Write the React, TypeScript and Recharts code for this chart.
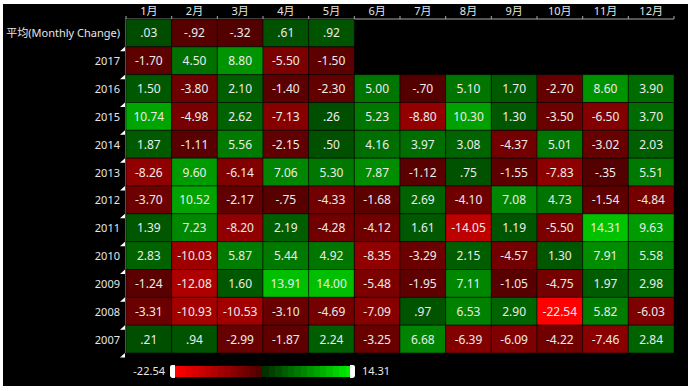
import React from 'react';
import { ScatterChart, Scatter, XAxis, YAxis } from 'recharts';

const MONTHS = ['1月', '2月', '3月', '4月', '5月', '6月', '7月', '8月', '9月', '10月', '11月', '12月'];
const ROWS = ['平均(Monthly Change)', '2017', '2016', '2015', '2014', '2013', '2012', '2011', '2010', '2009', '2008', '2007'];

const AVG = [0.03, -0.92, -0.32, 0.61, 0.92];
const Y2017 = [-1.7, 4.5, 8.8, -5.5, -1.5];
const Y2016 = [1.5, -3.8, 2.1, -1.4, -2.3, 5.0, -0.7, 5.1, 1.7, -2.7, 8.6, 3.9];
const Y2015 = [10.74, -4.98, 2.62, -7.13, 0.26, 5.23, -8.8, 10.3, 1.3, -3.5, -6.5, 3.7];
const Y2014 = [1.87, -1.11, 5.56, -2.15, 0.5, 4.16, 3.97, 3.08, -4.37, 5.01, -3.02, 2.03];
const Y2013 = [-8.26, 9.6, -6.14, 7.06, 5.3, 7.87, -1.12, 0.75, -1.55, -7.83, -0.35, 5.51];
const Y2012 = [-3.7, 10.52, -2.17, -0.75, -4.33, -1.68, 2.69, -4.1, 7.08, 4.73, -1.54, -4.84];
const Y2011 = [1.39, 7.23, -8.2, 2.19, -4.28, -4.12, 1.61, -14.05, 1.19, -5.5, 14.31, 9.63];
const Y2010 = [2.83, -10.03, 5.87, 5.44, 4.92, -8.35, -3.29, 2.15, -4.57, 1.3, 7.91, 5.58];
const Y2009 = [-1.24, -12.08, 1.6, 13.91, 14.0, -5.48, -1.95, 7.11, -1.05, -4.75, 1.97, 2.98];
const Y2008 = [-3.31, -10.93, -10.53, -3.1, -4.69, -7.09, 0.97, 6.53, 2.9, -22.54, 5.82, -6.03];
const Y2007 = [0.21, 0.94, -2.99, -1.87, 2.24, -3.25, 6.68, -6.39, -6.09, -4.22, -7.46, 2.84];

const SERIES = [AVG, Y2017, Y2016, Y2015, Y2014, Y2013, Y2012, Y2011, Y2010, Y2009, Y2008, Y2007];
const MIN_V = -22.54;
const MAX_V = 14.31;

const cells: { x: number; y: number; v: number }[] = [];
SERIES.forEach((vals, r) => vals.forEach((v, c) => cells.push({ x: c, y: r, v })));

const W = 691;
const H = 391;
const M = { top: 4, right: 17, bottom: 38, left: 3 };
const YW = 123;
const XH = 15;
const PW = W - M.left - M.right - YW;
const PH = H - M.top - M.bottom - XH;
const CW = PW / MONTHS.length;
const CH = PH / ROWS.length;
const FONT = "'Noto Sans', 'Noto Sans CJK SC', sans-serif";

function cellColor(v: number) {
  if (v < 0) {
    const t = Math.min(1, v / MIN_V);
    return `rgb(${Math.round(80 + t * 175)},0,0)`;
  }
  const t = Math.min(1, v / MAX_V);
  return `rgb(0,${Math.round(76 + t * 118)},0)`;
}

function fmt(v: number) {
  return v.toFixed(2).replace(/^(-?)0\./, '$1.');
}

const CellShape = (props: any) => {
  const { cx, cy, payload } = props;
  if (cx == null || cy == null) return null;
  return (
    <g>
      <rect x={cx - CW / 2} y={cy - CH / 2} width={CW} height={CH} fill={cellColor(payload.v)} stroke="rgba(0,0,0,0.5)" strokeWidth={1} />
      <text x={cx} y={cy} textAnchor="middle" dominantBaseline="central" fill="#ececec" fontSize={12} fontFamily={FONT}>
        {fmt(payload.v)}
      </text>
    </g>
  );
};

const XTick = (props: any) => {
  const { x, payload, index } = props;
  const ay = M.top + XH;
  return (
    <g>
      <text x={x} y={ay - 9} textAnchor="middle" dominantBaseline="central" fill="#e6e6e6" fontSize={11} fontFamily={FONT}>
        {MONTHS[payload.value]}
      </text>
      <line x1={x - CW / 2} x2={x - CW / 2} y1={ay} y2={ay - 3} stroke="#aaa" />
      {index === MONTHS.length - 1 ? <line x1={x + CW / 2} x2={x + CW / 2} y1={ay} y2={ay - 3} stroke="#aaa" /> : null}
    </g>
  );
};

const YTick = (props: any) => {
  const { y, payload } = props;
  const ax = M.left + YW - 1;
  const yb = y + CH / 2;
  const label = ROWS[payload.value];
  return (
    <g>
      <text x={ax - 5} y={y} textAnchor="end" dominantBaseline="central" fill="#e6e6e6" fontSize={11} fontFamily={FONT}>
        {label}
      </text>
      <polygon points={`${ax},${yb} ${ax},${yb + 4.5} ${ax - 5},${yb + 4.5}`} fill="#fff" />
    </g>
  );
};

const LegendBar = () => {
  const steps = 14;
  const reds = Array.from({ length: steps }, (_, i) => `rgb(${Math.round(255 - (i / (steps - 1)) * 170)},0,0)`);
  const greens = Array.from({ length: steps }, (_, i) => `rgb(0,${Math.round(50 + (i / (steps - 1)) * 185)},0)`);
  const barLeft = 173;
  const barW = 179;
  const barTop = 366;
  return (
    <div style={{ position: 'absolute', left: 0, top: 0, width: W, height: H, pointerEvents: 'none', fontFamily: FONT }}>
      <div style={{ position: 'absolute', left: barLeft - 50, top: barTop - 2, width: 42, textAlign: 'right', color: '#e6e6e6', fontSize: 11, lineHeight: '14px' }}>
        {fmt(MIN_V)}
      </div>
      <div style={{ position: 'absolute', left: barLeft, top: barTop, width: barW, height: 11, display: 'flex' }}>
        {reds.concat(greens).map((c, i) => (
          <div key={i} style={{ flex: 1, background: c }} />
        ))}
      </div>
      <div style={{ position: 'absolute', left: barLeft - 3, top: barTop - 1, width: 5, height: 13, background: '#fff', borderRadius: '2px 0 0 3px' }} />
      <div style={{ position: 'absolute', left: barLeft + barW - 2, top: barTop - 1, width: 5, height: 13, background: '#fff', borderRadius: '0 2px 3px 0' }} />
      <div style={{ position: 'absolute', left: barLeft + barW + 10, top: barTop - 2, color: '#e6e6e6', fontSize: 11, lineHeight: '14px' }}>
        {fmt(MAX_V)}
      </div>
    </div>
  );
};

export default function App() {
  return (
    <div style={{ position: 'absolute', left: 0, top: 0, width: W, height: H, background: '#fff' }}>
      <div style={{ position: 'absolute', left: 3, top: 4, width: 685, height: 382, background: '#000' }} />
      <div style={{ position: 'absolute', left: 0, top: 0 }}>
        <ScatterChart width={W} height={H} margin={M}>
          <XAxis
            type="number"
            dataKey="x"
            orientation="top"
            domain={[-0.5, 11.5]}
            ticks={[0, 1, 2, 3, 4, 5, 6, 7, 8, 9, 10, 11]}
            interval={0}
            height={XH}
            tick={<XTick />}
            tickLine={false}
            axisLine={{ stroke: '#aaa' }}
          />
          <YAxis
            type="number"
            dataKey="y"
            domain={[-0.5, 11.5]}
            reversed
            ticks={[0, 1, 2, 3, 4, 5, 6, 7, 8, 9, 10, 11]}
            interval={0}
            width={YW}
            tick={<YTick />}
            tickLine={false}
            axisLine={{ stroke: '#ddd' }}
          />
          <Scatter data={cells} shape={<CellShape />} isAnimationActive={false} />
        </ScatterChart>
      </div>
      <LegendBar />
    </div>
  );
}
